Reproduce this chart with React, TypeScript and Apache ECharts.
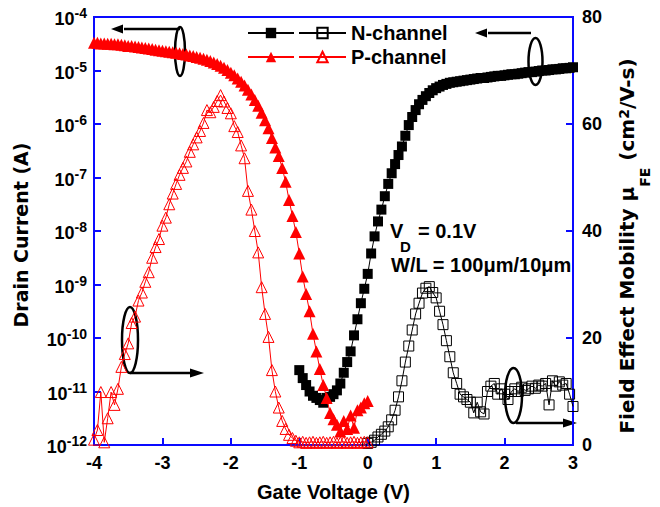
import React, { useEffect, useRef } from 'react';
import * as echarts from 'echarts';

// Gate voltage sweeps (V)
const gateVoltageP = [
  -4, -3.95, -3.9, -3.85, -3.8, -3.75, -3.7, -3.65, -3.6, -3.55,
  -3.5, -3.45, -3.4, -3.35, -3.3, -3.25, -3.2, -3.15, -3.1, -3.05,
  -3, -2.95, -2.9, -2.85, -2.8, -2.75, -2.7, -2.65, -2.6, -2.55,
  -2.5, -2.45, -2.4, -2.35, -2.3, -2.25, -2.2, -2.15, -2.1, -2.05,
  -2, -1.95, -1.9, -1.85, -1.8, -1.75, -1.7, -1.65, -1.6, -1.55,
  -1.5, -1.45, -1.4, -1.35, -1.3, -1.25, -1.2, -1.15, -1.1, -1.05,
  -1, -0.95, -0.9, -0.85, -0.8, -0.75, -0.7, -0.65, -0.6, -0.55,
  -0.5, -0.45, -0.4, -0.35, -0.3, -0.25, -0.2, -0.15, -0.1, -0.05,
  0,
];
const gateVoltageN = [
  -1, -0.95, -0.9, -0.85, -0.8, -0.75, -0.7, -0.65, -0.6, -0.55,
  -0.5, -0.45, -0.4, -0.35, -0.3, -0.25, -0.2, -0.15, -0.1, -0.05,
  0, 0.05, 0.1, 0.15, 0.2, 0.25, 0.3, 0.35, 0.4, 0.45,
  0.5, 0.55, 0.6, 0.65, 0.7, 0.75, 0.8, 0.85, 0.9, 0.95,
  1, 1.05, 1.1, 1.15, 1.2, 1.25, 1.3, 1.35, 1.4, 1.45,
  1.5, 1.55, 1.6, 1.65, 1.7, 1.75, 1.8, 1.85, 1.9, 1.95,
  2, 2.05, 2.1, 2.15, 2.2, 2.25, 2.3, 2.35, 2.4, 2.45,
  2.5, 2.55, 2.6, 2.65, 2.7, 2.75, 2.8, 2.85, 2.9, 2.95,
  3,
];
const gateVoltageNMob = [
  0, 0.05, 0.1, 0.15, 0.2, 0.25, 0.3, 0.35, 0.4, 0.45,
  0.5, 0.55, 0.6, 0.65, 0.7, 0.75, 0.8, 0.85, 0.9, 0.95,
  1, 1.05, 1.1, 1.15, 1.2, 1.25, 1.3, 1.35, 1.4, 1.45,
  1.5, 1.55, 1.6, 1.65, 1.7, 1.75, 1.8, 1.85, 1.9, 1.95,
  2, 2.05, 2.1, 2.15, 2.2, 2.25, 2.3, 2.35, 2.4, 2.45,
  2.5, 2.55, 2.6, 2.65, 2.7, 2.75, 2.8, 2.85, 2.9, 2.95,
  3,
];

// Drain current (A)
const pChannelCurrent = [
  3.3e-5, 3.3e-5, 3.2e-5, 3.2e-5, 3.16e-5, 3.16e-5, 3.09e-5, 3.09e-5, 3.02e-5, 2.95e-5,
  2.88e-5, 2.88e-5, 2.82e-5, 2.75e-5, 2.69e-5, 2.63e-5, 2.57e-5, 2.51e-5, 2.45e-5, 2.4e-5,
  2.34e-5, 2.29e-5, 2.24e-5, 2.19e-5, 2.14e-5, 2.09e-5, 2.04e-5, 2.0e-5, 1.91e-5, 1.86e-5,
  1.78e-5, 1.74e-5, 1.66e-5, 1.58e-5, 1.51e-5, 1.41e-5, 1.32e-5, 1.23e-5, 1.12e-5, 1.02e-5,
  9.12e-6, 8.13e-6, 7.08e-6, 6.17e-6, 5.25e-6, 4.37e-6, 3.55e-6, 2.82e-6, 2.19e-6, 1.62e-6,
  1.17e-6, 8.32e-7, 5.5e-7, 3.63e-7, 2.51e-7, 1.51e-7, 8.32e-8, 3.8e-8, 1.91e-8, 9.55e-9,
  3.8e-9, 1.41e-9, 6.61e-10, 3.16e-10, 1.2e-10, 5.62e-11, 2.63e-11, 1.32e-11, 7.59e-12, 3.98e-12,
  3.02e-12, 2.4e-12, 1.78e-12, 2.82e-12, 2.0e-12, 3.55e-12, 2.09e-12, 4.47e-12, 5.01e-12, 6.03e-12,
  6.61e-12,
];
const nChannelCurrent = [
  2.51e-11, 1.78e-11, 1.32e-11, 1.0e-11, 8.32e-12, 7.59e-12, 6.92e-12, 6.17e-12, 7.59e-12, 7.94e-12,
  8.91e-12, 1.05e-11, 1.41e-11, 2.24e-11, 3.55e-11, 5.62e-11, 1.12e-10, 2.24e-10, 4.47e-10, 8.32e-10,
  1.58e-9, 3.8e-9, 7.94e-9, 1.51e-8, 2.51e-8, 4.47e-8, 7.59e-8, 1.2e-7, 1.78e-7, 2.63e-7,
  3.8e-7, 6.03e-7, 9.55e-7, 1.35e-6, 1.82e-6, 2.34e-6, 2.82e-6, 3.31e-6, 3.8e-6, 4.27e-6,
  4.68e-6, 5.01e-6, 5.37e-6, 5.62e-6, 5.89e-6, 6.03e-6, 6.17e-6, 6.31e-6, 6.46e-6, 6.61e-6,
  6.76e-6, 6.92e-6, 7.08e-6, 7.24e-6, 7.24e-6, 7.41e-6, 7.59e-6, 7.76e-6, 7.94e-6, 7.94e-6,
  8.13e-6, 8.32e-6, 8.51e-6, 8.51e-6, 8.71e-6, 8.91e-6, 9.12e-6, 9.33e-6, 9.33e-6, 9.55e-6,
  9.77e-6, 1.0e-5, 1.0e-5, 1.02e-5, 1.05e-5, 1.05e-5, 1.07e-5, 1.1e-5, 1.1e-5, 1.12e-5,
  1.15e-5,
];

// Field effect mobility (cm^2/V-s)
const pChannelMobility = [
  1.0, 2.8, 9.9, 0.5, 5.0, 9.9, 7.5, 10.5, 14.6, 17.0,
  19.0, 22.8, 24.0, 27.0, 28.5, 30.5, 32.3, 35.0, 37.0, 38.5,
  41.0, 42.5, 45.0, 47.0, 48.8, 50.5, 51.8, 53.0, 54.8, 56.2,
  57.5, 58.7, 60.2, 62.6, 62.2, 63.2, 64.3, 65.4, 64.2, 63.0,
  62.0, 59.6, 58.5, 56.0, 53.6, 47.5, 44.0, 40.0, 36.0, 29.5,
  24.5, 20.2, 14.0, 10.0, 7.0, 4.5, 3.0, 1.9, 1.3, 0.8,
  0.5, 0.6, 0.4, 0.5, 0.6, 0.4, 0.5, 0.6, 0.4, 0.5,
  0.6, 0.4, 0.5, 0.6, 0.4, 0.5, 0.6, 0.4, 0.5, 0.6,
  0.5,
];
const nChannelMobility = [
  0.3, 0.5, 0.9, 1.5, 2.0, 2.6, 3.4, 4.7, 6.5, 9.0,
  12.0, 15.5, 18.5, 21.5, 24.5, 26.5, 28.4, 29.3, 29.6, 28.5,
  27.5, 25.0, 22.5, 19.5, 16.5, 13.5, 11.5, 9.5, 9.0, 8.5,
  8.0, 6.0, 8.0, 6.2, 5.8, 10.0, 11.0, 11.5, 9.5, 10.5,
  9.5, 8.5, 10.0, 10.5, 10.0, 10.8, 10.2, 10.5, 11.0, 10.6,
  11.2, 11.0, 11.5, 7.5, 12.0, 11.0, 11.8, 11.2, 11.5, 9.5,
  7.2,
];

const seriesNames = ['N-channel', 'P-channel'];
const xAxisRange = [-4, 3];
const currentRange = [1e-12, 1e-4];
const mobilityRange = [0, 80];
const mobilityStep = 20;

const BLUE = '#0a0aff';
const RED = '#ff0000';
const BLACK = '#000000';
const ARIAL = '"Liberation Sans", Arial, Helvetica, sans-serif';
const DEJAVU = '"DejaVu Sans", "Liberation Sans", sans-serif';

const pairs = (xs: number[], ys: number[]) => xs.map((x, i) => [x, ys[i]]);

const axisCommon = {
  axisLine: { show: true, onZero: false, lineStyle: { color: BLUE, width: 2 } },
  axisTick: { show: true, inside: true, length: 7, lineStyle: { color: BLUE, width: 2 } },
  splitLine: { show: false },
  minorTick: { show: false },
};

function arrow(x1: number, y: number, x2: number) {
  const dir = x2 > x1 ? 1 : -1;
  const headLen = 13;
  return [
    {
      type: 'line',
      shape: { x1, y1: y, x2: x2 - dir * headLen, y2: y },
      style: { stroke: BLACK, lineWidth: 2.5 },
    },
    {
      type: 'polygon',
      shape: { points: [[x2, y], [x2 - dir * headLen - 1, y - 4.5], [x2 - dir * headLen - 1, y + 4.5]] },
      style: { fill: BLACK },
    },
  ];
}

function ellipse(cx: number, cy: number, rx: number, ry: number) {
  return {
    type: 'ellipse',
    shape: { cx, cy, rx, ry },
    style: { fill: 'none', stroke: BLACK, lineWidth: 2.5 },
  };
}

export default function App() {
  const ref = useRef<HTMLDivElement>(null);

  useEffect(() => {
    if (!ref.current) return;
    const chart = echarts.init(ref.current, null, { renderer: 'svg' });

    const option = {
      animation: false,
      backgroundColor: '#ffffff',
      textStyle: { fontFamily: ARIAL, fontWeight: 'bold', color: BLACK },
      grid: {
        left: 94,
        right: 81,
        top: 17,
        bottom: 62,
        show: true,
        borderColor: BLUE,
        borderWidth: 2,
        backgroundColor: 'transparent',
      },
      legend: [
        {
          data: [seriesNames[0] + ' I', seriesNames[1] + ' I'],
          orient: 'vertical',
          left: 242,
          top: 18,
          itemWidth: 46,
          itemHeight: 13,
          itemGap: 4,
          selectedMode: false,
          formatter: () => ' ',
          textStyle: { fontSize: 20, fontWeight: 'bold', fontFamily: ARIAL, color: BLACK },
        },
        {
          data: seriesNames,
          orient: 'vertical',
          left: 293,
          top: 18,
          itemWidth: 47,
          itemHeight: 13,
          itemGap: 4,
          selectedMode: false,
          textStyle: { fontSize: 20, fontWeight: 'bold', fontFamily: ARIAL, color: BLACK },
        },
      ],
      xAxis: {
        type: 'value',
        min: xAxisRange[0],
        max: xAxisRange[1],
        interval: 1,
        position: 'bottom',
        ...axisCommon,
        axisLabel: { color: BLACK, fontSize: 18, fontWeight: 'bold', fontFamily: ARIAL, margin: 9 },
        name: 'Gate Voltage (V)',
        nameLocation: 'middle',
        nameGap: 37,
        nameTextStyle: { color: BLACK, fontSize: 20, fontWeight: 'bold', fontFamily: ARIAL },
      },
      yAxis: [
        {
          type: 'log',
          logBase: 10,
          min: currentRange[0],
          max: currentRange[1],
          splitNumber: 8,
          position: 'left',
          ...axisCommon,
          axisLabel: {
            margin: 7,
            formatter: (v: number) => `{b|10}{s|${Math.round(Math.log10(v))}}`,
            rich: {
              b: { fontSize: 18, fontWeight: 'bold', fontFamily: ARIAL, color: BLACK, lineHeight: 22, verticalAlign: 'bottom' },
              s: { fontSize: 14, fontWeight: 'bold', fontFamily: ARIAL, color: BLACK, verticalAlign: 'top' },
            },
          },
          name: 'Drain Current (A)',
          nameLocation: 'middle',
          nameRotate: 90,
          nameGap: 64,
          nameTextStyle: { color: BLACK, fontSize: 19, fontWeight: 'bold', fontFamily: DEJAVU, padding: [0, 8, 0, 0] },
        },
        {
          type: 'value',
          min: mobilityRange[0],
          max: mobilityRange[1],
          interval: mobilityStep,
          position: 'right',
          ...axisCommon,
          axisLabel: { color: BLACK, fontSize: 18, fontWeight: 'bold', fontFamily: ARIAL, margin: 9 },
          name: '{m|Field Effect Mobility μ}{sub|FE}{m| (cm}{sup|2}{m|/V-s)}',
          nameLocation: 'middle',
          nameRotate: 90,
          nameGap: 44,
          nameTextStyle: {
            color: BLACK,
            fontSize: 20,
            fontWeight: 'bold',
            fontFamily: DEJAVU,
            padding: [0, 30, 0, 0],
            rich: {
              m: { fontSize: 20, fontWeight: 'bold', fontFamily: DEJAVU, color: BLACK, verticalAlign: 'top' },
              sub: { fontSize: 14, fontWeight: 'bold', fontFamily: DEJAVU, color: BLACK, verticalAlign: 'bottom', lineHeight: 35 },
              sup: { fontSize: 14, fontWeight: 'bold', fontFamily: DEJAVU, color: BLACK, verticalAlign: 'top' },
            },
          },
        },
      ],
      series: [
        {
          name: seriesNames[0] + ' I',
          type: 'line',
          yAxisIndex: 0,
          data: pairs(gateVoltageN, nChannelCurrent),
          symbol: 'rect',
          symbolSize: 10,
          showAllSymbol: true,
          itemStyle: { color: BLACK },
          lineStyle: { color: BLACK, width: 1 },
          z: 2,
        },
        {
          name: seriesNames[0],
          type: 'line',
          yAxisIndex: 1,
          data: pairs(gateVoltageNMob, nChannelMobility),
          symbol: 'rect',
          symbolSize: 10,
          showAllSymbol: true,
          itemStyle: { color: 'rgba(0,0,0,0)', borderColor: BLACK, borderWidth: 1 },
          lineStyle: { color: BLACK, width: 1 },
          z: 2,
        },
        {
          name: seriesNames[1] + ' I',
          type: 'line',
          yAxisIndex: 0,
          data: pairs(gateVoltageP, pChannelCurrent),
          symbol: 'triangle',
          symbolSize: 12,
          showAllSymbol: true,
          itemStyle: { color: RED },
          lineStyle: { color: RED, width: 1 },
          z: 3,
        },
        {
          name: seriesNames[1],
          type: 'line',
          yAxisIndex: 1,
          data: pairs(gateVoltageP, pChannelMobility),
          symbol: 'triangle',
          symbolSize: 11,
          showAllSymbol: true,
          itemStyle: { color: 'rgba(0,0,0,0)', borderColor: RED, borderWidth: 1 },
          lineStyle: { color: RED, width: 1 },
          z: 3,
        },
      ],
      graphic: [
        ellipse(180, 51.5, 5, 24.5),
        ...arrow(180, 29, 111),
        ellipse(535.5, 61.5, 7, 23.5),
        ...arrow(531, 33, 475),
        ellipse(130, 340, 8, 33),
        ...arrow(130, 373, 204),
        ellipse(513.5, 395.5, 8.5, 27.5),
        ...arrow(516, 423, 577),
        {
          type: 'text',
          x: 390,
          y: 231,
          style: { text: 'V', fontSize: 20, fontWeight: 'bold', fontFamily: ARIAL, fill: BLACK, verticalAlign: 'middle' },
        },
        {
          type: 'text',
          x: 400,
          y: 246,
          style: { text: 'D', fontSize: 15, fontWeight: 'bold', fontFamily: ARIAL, fill: BLACK, verticalAlign: 'middle' },
        },
        {
          type: 'text',
          x: 418,
          y: 231,
          style: { text: '= 0.1V', fontSize: 20, fontWeight: 'bold', fontFamily: ARIAL, fill: BLACK, verticalAlign: 'middle' },
        },
        {
          type: 'text',
          x: 391,
          y: 264.5,
          style: { text: 'W/L = 100μm/10μm', fontSize: 20, fontWeight: 'bold', fontFamily: ARIAL, fill: BLACK, verticalAlign: 'middle' },
        },
      ],
    };

    chart.setOption(option as any);
    return () => chart.dispose();
  }, []);

  return <div ref={ref} style={{ position: 'absolute', left: 0, top: 0, width: 660, height: 507 }} />;
}
